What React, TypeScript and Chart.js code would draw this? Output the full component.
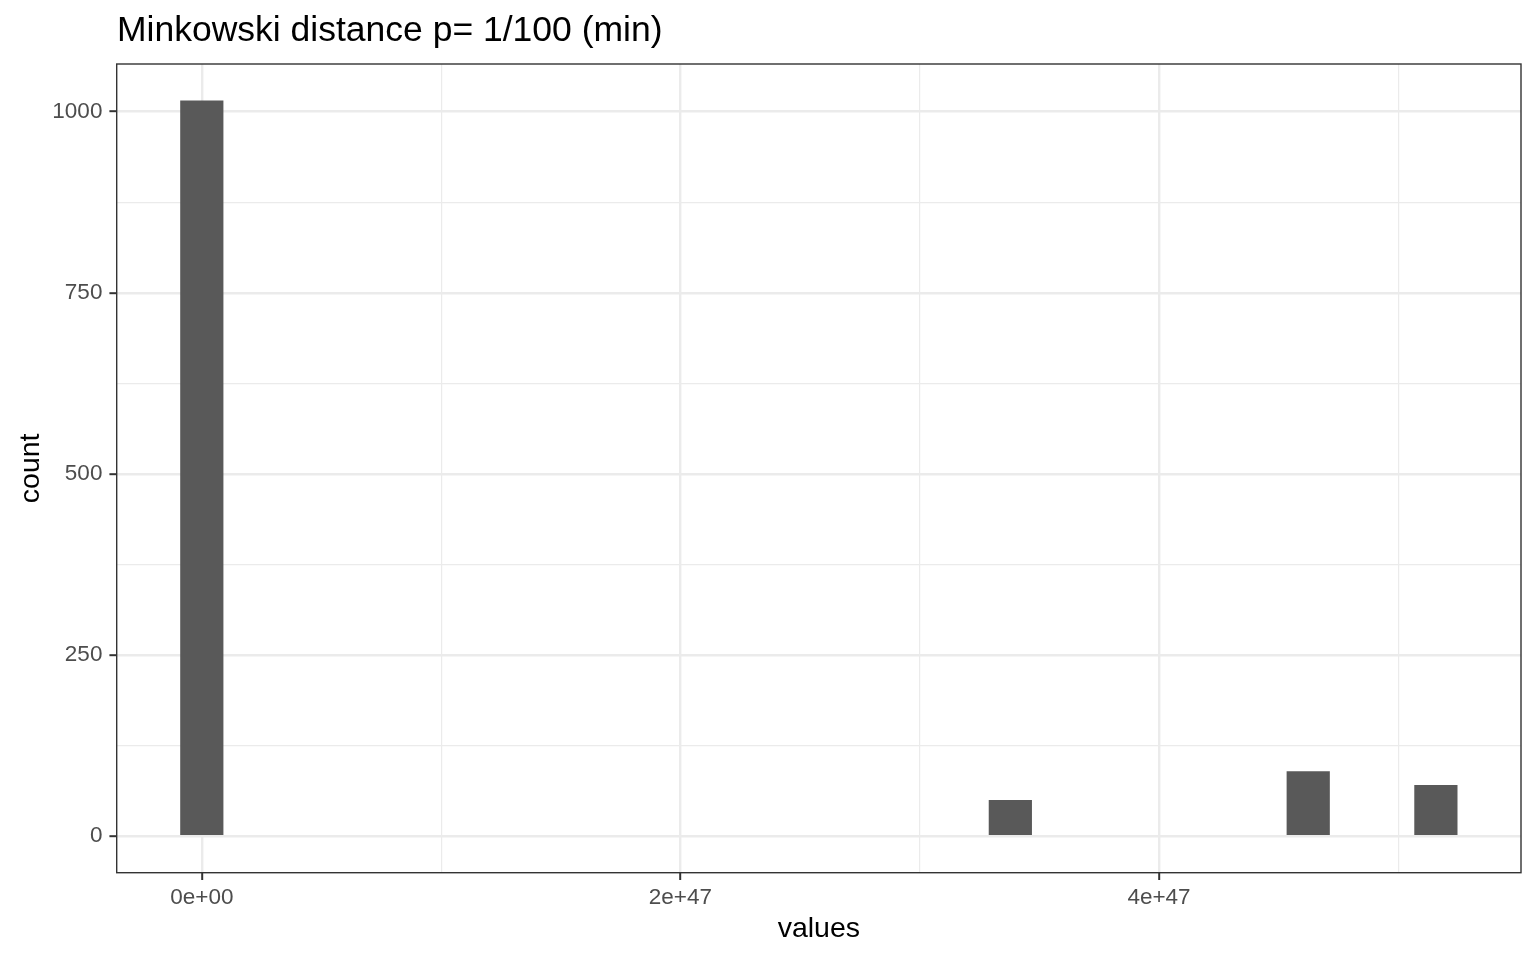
import React, { useEffect, useRef } from "react";
import { Chart, registerables } from "chart.js";

Chart.register(...registerables);

// Histogram bins (bin centers in units of 1e47) and counts
const binCenters = [
  0, 0.17783, 0.35566, 0.53349, 0.71132, 0.88915, 1.06698, 1.24481, 1.42264, 1.60047,
  1.7783, 1.95613, 2.13396, 2.31179, 2.48962, 2.66745, 2.84528, 3.02311, 3.20094, 3.37877,
  3.5566, 3.73443, 3.91226, 4.09009, 4.26792, 4.44575, 4.62358, 4.80141, 4.97924, 5.15707,
];
const counts = [
  1015, 0, 0, 0, 0, 0, 0, 0, 0, 0,
  0, 0, 0, 0, 0, 0, 0, 0, 0, 49,
  0, 0, 0, 0, 0, 0, 89, 0, 0, 70,
];
const xTicks = [0, 1, 2, 3, 4, 5];
const xMajorLabels: Record<number, string> = { 0: "0e+00", 2: "2e+47", 4: "4e+47" };
const yTicks = [0, 125, 250, 375, 500, 625, 750, 875, 1000];
const titleText = "Minkowski distance p= 1/100 (min)";
const xTitle = "values";
const yTitle = "count";

const FONT = "'Liberation Sans', Arial, Helvetica, sans-serif";

export default function App() {
  const ref = useRef<HTMLCanvasElement | null>(null);
  useEffect(() => {
    document.body.style.margin = "0";
    const canvas = ref.current!;
    const textPlugin = {
      id: "textPlugin",
      afterDraw(chart: any) {
        const ctx = chart.ctx as CanvasRenderingContext2D;
        const a = chart.chartArea;
        ctx.save();
        // panel border
        ctx.strokeStyle = "#333333";
        ctx.lineWidth = 1.4;
        ctx.strokeRect(a.left, a.top, a.right - a.left, a.bottom - a.top);
        // title
        ctx.fillStyle = "#000000";
        ctx.font = `35.5px ${FONT}`;
        ctx.textAlign = "left";
        ctx.textBaseline = "alphabetic";
        ctx.fillText(titleText, 117, 41);
        // x title
        ctx.font = `28.5px ${FONT}`;
        ctx.textAlign = "center";
        ctx.fillText(xTitle, (a.left + a.right) / 2, 937);
        // y title
        ctx.translate(39, (a.top + a.bottom) / 2);
        ctx.rotate(-Math.PI / 2);
        ctx.fillText(yTitle, 0, 0);
        ctx.restore();
      },
    };
    const chart = new Chart(canvas, {
      type: "bar",
      data: {
        datasets: [
          {
            data: binCenters.map((x, i) => ({ x, y: counts[i] })),
            backgroundColor: (c: any) => (c.raw && c.raw.y > 0 ? "#595959" : "rgba(0,0,0,0)"),
            borderWidth: 0,
            barPercentage: 1,
            categoryPercentage: 1,
          },
        ],
      },
      options: {
        responsive: false,
        animation: false,
        devicePixelRatio: 1,
        layout: { padding: { top: 64, right: 15, left: 0, bottom: 0 } },
        plugins: { legend: { display: false }, tooltip: { enabled: false }, title: { display: false } },
        scales: {
          x: {
            type: "linear",
            min: -0.35566,
            max: 5.51273,
            offset: false,
            afterBuildTicks: (s: any) => {
              s.ticks = xTicks.map((v) => ({ value: v }));
            },
            afterFit: (s: any) => {
              s.height = 87.3;
            },
            border: { display: false },
            grid: {
              offset: false,
              drawTicks: true,
              tickLength: 7.3,
              color: "#EBEBEB",
              lineWidth: (c: any) => (c.tick && c.tick.value % 2 === 0 ? 2.4 : 1.2),
              tickColor: (c: any) => (c.tick && c.tick.value % 2 === 0 ? "#333333" : "rgba(0,0,0,0)"),
              tickWidth: 2,
            },
            ticks: {
              autoSkip: false,
              maxRotation: 0,
              padding: 4,
              color: "#4D4D4D",
              font: { family: FONT, size: 22.5 },
              callback: (v: any) => xMajorLabels[v as number] ?? "",
            },
          },
          y: {
            type: "linear",
            min: -50.75,
            max: 1065.75,
            afterBuildTicks: (s: any) => {
              s.ticks = yTicks.map((v) => ({ value: v }));
            },
            afterFit: (s: any) => {
              s.width = 116.7;
            },
            border: { display: false },
            grid: {
              drawTicks: true,
              tickLength: 7.3,
              color: "#EBEBEB",
              lineWidth: (c: any) => (c.tick && c.tick.value % 250 === 0 ? 2.4 : 1.2),
              tickColor: (c: any) => (c.tick && c.tick.value % 250 === 0 ? "#333333" : "rgba(0,0,0,0)"),
              tickWidth: 2,
            },
            ticks: {
              autoSkip: false,
              padding: 7,
              color: "#4D4D4D",
              font: { family: FONT, size: 22.5 },
              callback: (v: any) => ((v as number) % 250 === 0 ? String(v) : ""),
            },
          },
        },
      },
      plugins: [textPlugin],
    } as any);
    return () => chart.destroy();
  }, []);
  return (
    <div style={{ position: "absolute", left: 0, top: 0, width: 1536, height: 960, background: "#FFFFFF" }}>
      <canvas ref={ref} width={1536} height={960} style={{ width: 1536, height: 960 }} />
    </div>
  );
}
